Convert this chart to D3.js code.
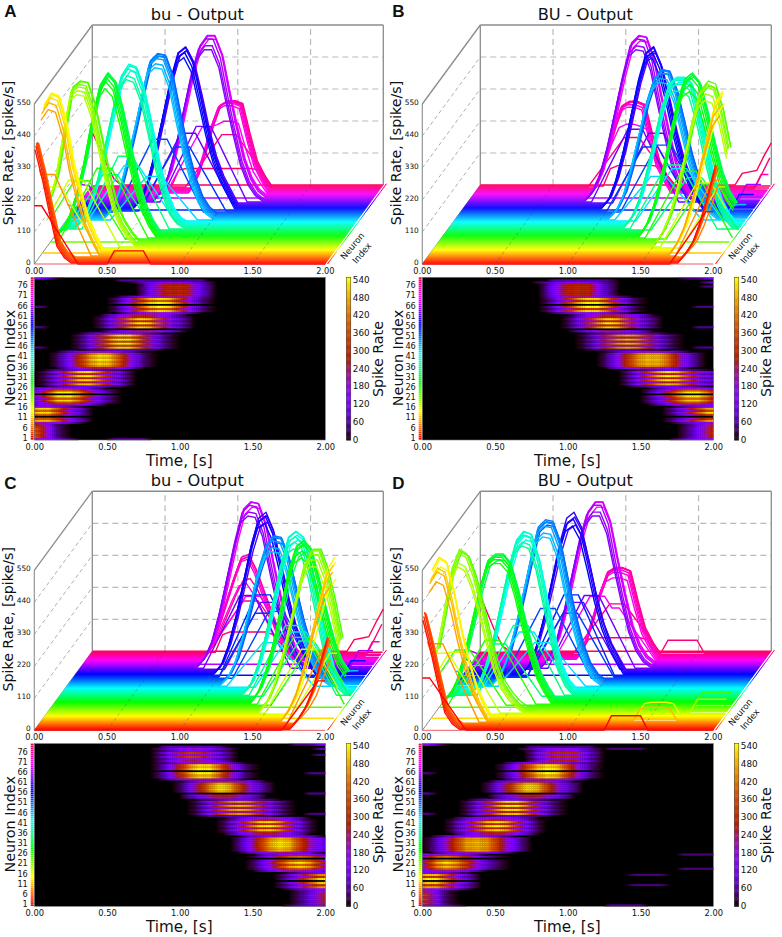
<!DOCTYPE html>
<html><head><meta charset="utf-8">
<script src="https://cdn.jsdelivr.net/npm/d3@7"></script>
<style>html,body{margin:0;padding:0;background:#fff}svg{display:block}text{font-family:"DejaVu Sans",sans-serif;fill:#111}</style>
</head><body><div id="chart"></div>
<script>
const timeTicks=[0,0.5,1,1.5,2];
const rateTicks=[0,110,220,330,440,550];
const neuronTicks=[1,6,11,16,21,26,31,36,41,46,51,56,61,66,71,76];
const colorTicks=[0,60,120,180,240,300,360,420,480,540];
// rise/fall of weakly driven neurons, 0.05 s per step
const weakShape=[0,.2,.4,.6,.8,1,1,1,.8,.6,.4,.2,0];
// clusters: [first neuron, start time, rates every 0.05 s, peak rate per neuron, heat-map odd-row level]
const clustersA=[
[1,0,[405,300,175,60,20,0],[200,390,400,405,405,400,395,300],.9],
[9,0,[500,540,530,440,300,200,110,50,0],[280,500,520,0,530,540,540,530,210],.75],
[18,0,[150,230,380,530,550,545,470,350,230,130,70,30,0],[230,520,530,540,545,0,550,545,200],.7],
[27,0,[0,20,70,150,260,400,510,550,520,420,300,190,100,40,0],[240,510,530,540,550,550,545,535,190],.5],
[36,0.1,[0,30,90,170,290,410,510,550,540,470,350,220,120,50,15,0],[250,510,520,540,550,550,540,520,190],.9],
[45,0.25,[0,30,90,190,300,420,530,555,550,480,350,230,130,60,20,0],[150,520,530,545,550,555,550,540,250],.65],
[54,0.4,[0,30,100,200,320,440,530,550,500,390,270,170,100,50,0],[220,0,520,535,550,545,530,530,240],.55],
[63,0.5,[0,30,90,190,310,430,520,555,555,490,360,240,130,60,20,0],[260,520,530,550,0,555,550,535,230],.7],
[71,0.7,[0,50,130,220,290,305,305,295,190,95,45,0],[250,300,305,305,305,300,300,180],.9]];
const clustersB=[
[1,1.75,[0,30,70,140,230,330],[180,310,320,330,325,320,310,250],.9],
[9,1.65,[0,40,100,190,300,410,510,550],[260,480,510,0,535,550,540,500,210],.65],
[18,1.5,[0,40,100,190,300,420,520,550,540,460,330],[220,500,520,540,545,0,550,530,190],.75],
[27,1.35,[0,40,110,210,330,450,530,550,520,420,310,210,140,100],[230,500,520,540,550,550,540,530,180],.5],
[36,1.2,[0,30,90,180,290,400,480,500,500,480,390,270,160,80,30,0],[220,470,490,500,505,505,495,480,180],.95],
[45,1.05,[0,25,80,170,280,390,470,500,495,430,320,210,120,60,20,0],[150,470,480,495,500,500,495,480,230],.5],
[54,0.95,[0,30,100,200,320,440,530,550,490,380,260,160,90,40,0],[220,0,520,535,550,545,530,520,240],.55],
[63,0.8,[0,30,90,190,310,430,530,555,550,480,350,230,120,50,15,0],[250,520,530,550,0,555,550,530,220],.6],
[71,0.8,[0,50,130,220,290,305,305,295,190,95,45,0],[240,295,300,305,305,300,295,170],.95]];
const clustersC=[
[1,1.75,[0,30,70,130,220,310],[170,290,300,310,305,300,290,220],.8],
[9,1.65,[0,40,100,190,300,410,510,550],[260,470,510,530,0,550,530,470,210],.6],
[18,1.45,[0,30,90,180,290,400,500,550,550,480,370,240],[220,500,520,535,545,545,0,540,190],.75],
[27,1.35,[0,40,110,210,330,450,530,550,520,420,310,210,140,100],[230,500,520,540,550,545,530,500,190],.95],
[36,1.25,[0,30,100,200,320,440,530,550,530,440,310,180,80,25,0],[240,500,520,535,550,545,530,510,190],.55],
[45,1.05,[0,25,80,170,280,390,470,500,495,430,320,210,120,60,20,0],[150,460,470,490,500,500,490,470,230],.5],
[54,0.95,[0,30,100,200,320,440,530,550,490,380,260,160,90,40,0],[220,280,0,520,540,550,535,510,230],.95],
[63,0.8,[0,30,90,190,310,430,530,555,550,480,350,230,120,50,15,0],[250,520,530,550,0,555,550,530,220],.9],
[71,0.8,[0,40,110,190,270,340,350,300,230,160,90,40,0],[180,260,340,345,350,340,260,180],.55]];
const clustersD=[
[1,0,[396,290,170,60,20,0],[180,375,385,396,390,385,370,280],.7],
[9,0,[510,555,540,440,310,200,110,50,0],[270,480,510,520,0,550,540,510,210],.6],
[18,0,[210,350,490,555,540,470,370,260,160,90,50,20,0],[210,500,510,540,550,540,0,530,190],.8],
[27,0,[0,25,80,170,280,390,480,500,500,470,380,270,170,90,40,0],[220,480,490,495,500,500,490,470,180],.95],
[36,0.15,[0,30,100,190,310,430,520,550,540,460,330,200,90,30,0],[240,510,520,540,550,545,530,510,190],.55],
[45,0.25,[0,30,90,190,300,420,530,555,550,480,350,230,130,60,20,0],[150,510,520,540,550,555,545,530,240],.55],
[54,0.4,[0,30,100,200,320,440,530,550,500,390,270,170,100,50,0],[220,280,0,510,530,550,530,500,230],.95],
[63,0.5,[0,30,90,190,310,430,520,555,555,490,360,240,130,60,20,0],[250,520,530,550,0,555,550,530,220],.9],
[71,0.7,[0,50,130,220,290,305,305,295,190,95,45,0],[180,280,295,300,305,300,295,170],.6]];
// isolated weak responses: [neuron, start time, rates every 0.05 s]
const blipsA=[[1,0.5,[0,45,45,45,45,45,0]],[80,0,[180,130,70,20,0]],[66,0,[50,45,0]],[56,0,[50,45,0]],[46,0,[50,40,0]],[79,0.55,[0,55,60,60,60,60,60,60,60,60,60,60,55,0]],[35,0.1,[0,50,55,55,55,50,0]]];
const blipsB=[[80,1.75,[0,40,45,50,100,145]],[78,1.9,[0,50,100]],[76,1.9,[0,50,50]],[66,1.85,[0,50,50,50]],[56,1.85,[0,50,50,50]],[46,1.85,[0,45,50,50]],[79,0.85,[0,60,70,70,70,70,70,70,60,30,0]],[35,1.45,[0,50,55,55,55,55,55,55,50,0]],[2,1.95,[0,40]],[14,1.9,[0,50,70]]];
const blipsC=[[80,1.75,[0,40,45,50,100,145]],[78,1.9,[0,50,100]],[75,1.9,[0,50,50]],[66,1.85,[0,50,50,50]],[56,1.85,[0,50,50,50]],[46,1.85,[0,45,50,50]],[79,0.85,[0,60,70,70,70,70,70,70,60,30,0]],[35,1.45,[0,50,55,55,55,55,55,55,50,0]],[2,1.95,[0,40]],[14,1.9,[0,50,70]]];
const blipsD=[[80,0,[190,130,70,20,0]],[66,0,[50,40,0]],[56,0,[60,50,0]],[46,0,[50,40,0]],[1,1.25,[0,50,50,50,50,50,0]],[11,1.4,[0,40,45,45,45,40,0]],[16,1.4,[0,40,45,45,45,40,0]],[26,1.75,[0,45,45,45,45,45]],[19,1.75,[0,45,45,45,45,45]],[78,1.25,[0,45,45,45,45,45,0]],[79,0.7,[0,45,50,50,50,50,50,50,50,45,0]]];
const panelLetters=["A","B","C","D"];
const panelTitles=["bu - Output","BU - Output","bu - Output","BU - Output"];
const panelLeft=[34.3,422.3,34.3,422.3];
const panelFloor=[264,264,730.3,730.3];
const letterY=[17,17,489,489];
const panelClusters=[clustersA,clustersB,clustersC,clustersD];
const panelBlips=[blipsA,blipsB,blipsC,blipsD];

const W=782,H=937,NN=80,STEP=0.05,NT=41;
const svg=d3.select("#chart").append("svg").attr("width",W).attr("height",H);
const wallC="#8c8c8c",gridC="#b9b9b9";
const hue=n=>d3.hsl(340*(n-1)/79,1,.5).formatHex();
const gnuplot=x=>d3.rgb(255*Math.sqrt(x),255*x*x*x,255*Math.max(0,Math.sin(2*Math.PI*x))).formatRgb();
const colorOf=d3.scaleSequential(gnuplot).domain([0,550]).clamp(true);

function buildMatrix(clusters,blips){
  const blank=()=>d3.range(NN+1).map(()=>new Array(NT).fill(0));
  const m=blank(),h=blank();
  const put=(n,t,v,level)=>{const k=Math.round(t/STEP);if(k>=0&&k<NT){m[n][k]=Math.max(m[n][k],v);h[n][k]=Math.max(h[n][k],v*level)}};
  clusters.forEach(([first,start,curve,peaks,stripe])=>{
    const top=d3.max(curve),ci=curve.indexOf(top),center=start+ci*STEP;
    peaks.forEach((p,i)=>{
      const n=first+i,level=n%2?stripe:1;
      if(p>=0.6*top) curve.forEach((v,j)=>put(n,start+j*STEP,v*p/top,level));
      else weakShape.forEach((v,j)=>put(n,center+(j-6)*STEP,v*p,level));
    });
  });
  blips.forEach(([n,start,vals])=>vals.forEach((v,j)=>put(n,start+j*STEP,v,1)));
  return {m,h};
}

panelLetters.forEach((letter,pi)=>{
  const L=panelLeft[pi],F=panelFloor[pi],{m,h:heat}=buildMatrix(panelClusters[pi],panelBlips[pi]);
  const g=svg.append("g");
  const TOP=F-239;
  const tx=d3.scaleLinear().domain([0,2]).range([0,291]);
  const dx=d3.scaleLinear().domain([1,80]).range([0,58]);
  const dy=d3.scaleLinear().domain([1,80]).range([0,79]);
  const rz=d3.scaleLinear().domain([0,550]).range([0,160]);
  const X=(n,t)=>L+tx(t)+dx(n), Y=(n,r)=>F-dy(n)-rz(r);
  const seg=(a,b,c,w,dash)=>g.append("line").attr("x1",a[0]).attr("y1",a[1]).attr("x2",b[0]).attr("y2",b[1]).attr("stroke",c).attr("stroke-width",w).attr("stroke-dasharray",dash||null);

  // walls
  rateTicks.slice(1,-1).forEach(r=>{
    seg([X(1,0),Y(1,r)],[X(80,0),Y(80,r)],"#9a9a9a",.8,"4,3");
    seg([X(80,0),Y(80,r)],[X(80,2),Y(80,r)],gridC,1.2,"6,4");
  });
  timeTicks.slice(1,-1).forEach(t=>seg([X(80,t),Y(80,0)],[X(80,t),Y(80,550)],gridC,1.2,"6,4"));
  seg([X(1,0),Y(1,0)],[X(1,0),Y(1,550)],wallC,1.1);
  seg([X(1,0),Y(1,550)],[X(80,0),Y(80,550)],wallC,1.3);
  seg([X(80,0),Y(80,0)],[X(80,0),Y(80,550)],wallC,1.3);
  seg([X(80,0),Y(80,550)],[X(80,2),Y(80,550)],wallC,1.6);
  seg([X(80,2),Y(80,0)],[X(80,2),Y(80,550)],wallC,1.3);
  seg([X(1,0),Y(1,0)],[X(80,0),Y(80,0)],wallC,1);

  // neuron traces, back to front
  const line=d3.line();
  const ns=d3.range(NN,0,-1);
  g.append("g").attr("fill","none").attr("stroke-width",1.4).selectAll("path").data(ns).join("path")
    .attr("stroke",hue)
    .attr("d",n=>line(m[n].map((r,k)=>[X(n,k*STEP),Y(n,r)])));
  // edge ticks beyond the end of the floor
  g.append("g").selectAll("line").data(ns).join("line")
    .attr("x1",n=>X(n,2)+2.2).attr("x2",n=>X(n,2)+3.2)
    .attr("y1",n=>Y(n,0)).attr("y2",n=>Y(n,0)-1.3)
    .attr("stroke",hue).attr("stroke-width",1);
  timeTicks.slice(1,-1).forEach(t=>seg([X(1,t),Y(1,0)],[X(80,t),Y(80,0)],"#3a3a3a",.6,"3,3").attr("opacity",.55));
  seg([X(1,0),Y(1,0)],[X(1,2),Y(1,0)],"#e8333a",.8);

  // 3D tick labels
  g.append("g").attr("font-size",7.4).selectAll("text").data(rateTicks).join("text")
    .attr("x",L-3.5).attr("y",r=>Y(1,r)-1.8).attr("dy","0.35em").attr("text-anchor","end").text(r=>r);
  g.append("g").attr("font-size",8.2).selectAll("text").data(timeTicks).join("text")
    .attr("x",t=>X(1,t)).attr("y",F+6.7).attr("dy","0.35em").attr("text-anchor","middle").text(t=>t.toFixed(2));
  g.append("text").attr("transform",`translate(${L-21},${F-111}) rotate(-90)`).attr("text-anchor","middle").attr("font-size",14.2).text("Spike Rate, [spike/s]");
  g.append("text").attr("x",L+163).attr("y",TOP-5).attr("text-anchor","middle").attr("font-size",16.2).text(panelTitles[pi]);
  g.append("text").attr("x",L-30).attr("y",letterY[pi]).attr("font-size",17).attr("font-weight","700").style("font-family","'Liberation Sans',sans-serif").text(letter);
  [["Neuron",L+318,F-18],["Index",L+327.5,F-11]].forEach(([s,a,b])=>
    g.append("text").attr("transform",`translate(${a},${b}) rotate(-50)`).attr("text-anchor","middle").attr("dy","0.35em").attr("font-size",8.8).text(s));

  // heat map
  const HT=F+13.3,HB=F+176;
  const hx=d3.scaleLinear().domain([0,2]).range([L,L+291]);
  const hy=d3.scaleLinear().domain([0.5,80.5]).range([HB,HT]);
  const h=g.append("g");
  h.append("rect").attr("x",L).attr("y",HT).attr("width",291).attr("height",HB-HT).attr("fill","#000");
  const cells=[];
  const SUB=4;
  d3.range(1,NN+1).forEach(n=>{for(let k=0;k<NT-1;k++){
    const a=heat[n][k],b=heat[n][k+1];
    if(a===0&&b===0)continue;
    for(let s=0;s<SUB;s++)cells.push({n,t:(k+s/SUB)*STEP,v:a+(b-a)*(s+.5)/SUB});
  }});
  const hm=h.append("g").style("filter","blur(0.25px)");
  hm.selectAll("rect").data(cells).join("rect")
    .attr("x",c=>hx(c.t)).attr("y",c=>hy(c.n+.5))
    .attr("width",hx(STEP/SUB)-hx(0)+.3).attr("height",hy(0)-hy(1)+.2)
    .attr("fill",c=>colorOf(c.v));
  h.append("rect").attr("x",L).attr("y",HT).attr("width",291).attr("height",HB-HT).attr("fill","none").attr("stroke","#777").attr("stroke-width",.6);
  // neuron colour strip
  g.append("g").selectAll("rect").data(d3.range(1,NN+1)).join("rect")
    .attr("x",L-3.6).attr("width",3).attr("y",n=>hy(n+.5)).attr("height",hy(0)-hy(1)-.3).attr("fill",hue);
  // axes
  const ax=g.append("g").attr("transform",`translate(0,${HB})`).call(d3.axisBottom(hx).tickValues(timeTicks).tickFormat(d3.format(".2f")).tickSize(0).tickPadding(4));
  ax.select(".domain").remove(); ax.selectAll("text").attr("font-size",8.3).style("font-family","'DejaVu Sans'");
  const ay=g.append("g").attr("transform",`translate(${L-3.5},-1.3)`).call(d3.axisLeft(hy).tickValues(neuronTicks).tickFormat(d3.format("d")).tickSize(0).tickPadding(3));
  ay.select(".domain").remove(); ay.selectAll("text").attr("font-size",8.2).style("font-family","'DejaVu Sans'");
  g.append("text").attr("x",L+145).attr("y",F+202).attr("text-anchor","middle").attr("font-size",15.2).text("Time, [s]");
  g.append("text").attr("transform",`translate(${L-19},${F+94}) rotate(-90)`).attr("text-anchor","middle").attr("font-size",14.4).text("Neuron Index");

  // colour bar
  const CX=L+312,cy=d3.scaleLinear().domain([0,550]).range([HB,HT]);
  g.append("g").selectAll("rect").data(d3.range(0,550,3)).join("rect")
    .attr("x",CX).attr("width",4.5).attr("y",v=>cy(v+3)).attr("height",cy(0)-cy(3)+.4).attr("fill",v=>colorOf(v));
  g.append("rect").attr("x",CX).attr("y",HT).attr("width",4.5).attr("height",HB-HT).attr("fill","none").attr("stroke","#333").attr("stroke-width",.5);
  g.append("g").attr("font-size",8.8).selectAll("text").data(colorTicks).join("text")
    .attr("x",CX+6.5).attr("y",v=>cy(v)-.5).attr("dy","0.35em").text(v=>v);
  g.append("text").attr("transform",`translate(${L+349},${F+95}) rotate(-90)`).attr("text-anchor","middle").attr("font-size",14.3).text("Spike Rate");
});
</script></body></html>
